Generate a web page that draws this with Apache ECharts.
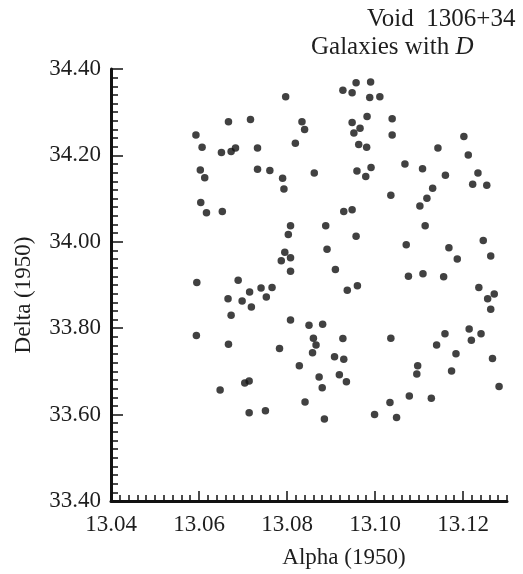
<!DOCTYPE html>
<html>
<head>
<meta charset="utf-8">
<script src="https://cdn.jsdelivr.net/npm/echarts@6/dist/echarts.min.js"></script>
<style>
  html, body { margin: 0; padding: 0; background: #fff; }
  #chart { width: 523px; height: 574px; }
</style>
</head>
<body>
<div id="chart"></div>
<script>
// galaxy positions
var alpha = [
  13.0797, 13.0927, 13.0948, 13.0957, 13.0990, 13.0988, 13.1011, 13.0667, 13.0717, 13.0834,
  13.0840, 13.0593, 13.0607, 13.0651, 13.0673, 13.0683, 13.0733, 13.0819, 13.0603, 13.0613,
  13.0733, 13.0761, 13.0790, 13.0793, 13.0862, 13.0604, 13.0617, 13.0653, 13.0929, 13.0948,
  13.0982, 13.1039, 13.0948, 13.0966, 13.0952, 13.1039, 13.0963, 13.0981, 13.1202, 13.1143,
  13.1212, 13.1068, 13.1108, 13.0959, 13.0991, 13.0979, 13.1160, 13.1234, 13.1222, 13.1254,
  13.1131, 13.1118, 13.1102, 13.1036, 13.0808, 13.0803, 13.0888, 13.0891, 13.0795, 13.0808,
  13.0787, 13.0808, 13.0910, 13.0595, 13.0689, 13.0715, 13.0741, 13.0766, 13.0753, 13.0666,
  13.0698, 13.0719, 13.0673, 13.0937, 13.0808, 13.0850, 13.0881, 13.1114, 13.0957, 13.1071,
  13.1168, 13.1246, 13.1187, 13.1263, 13.1076, 13.1109, 13.1156, 13.0960, 13.1236, 13.1256,
  13.1271, 13.1263, 13.1214, 13.0594, 13.0667, 13.0783, 13.0860, 13.0866, 13.0858, 13.0927,
  13.0908, 13.0929, 13.0828, 13.0873, 13.0919, 13.0935, 13.0880, 13.0704, 13.0714, 13.0648,
  13.0841, 13.0714, 13.0751, 13.0885, 13.1036, 13.1159, 13.1241, 13.1219, 13.1140, 13.1184,
  13.1267, 13.1097, 13.1095, 13.1174, 13.1282, 13.1078, 13.1128, 13.1034, 13.0999, 13.1049
];
var delta = [
  34.336, 34.351, 34.345, 34.368, 34.370, 34.334, 34.336, 34.278, 34.283, 34.278,
  34.260, 34.247, 34.219, 34.207, 34.209, 34.217, 34.217, 34.228, 34.166, 34.148,
  34.168, 34.165, 34.147, 34.122, 34.159, 34.091, 34.067, 34.070, 34.070, 34.074,
  34.290, 34.285, 34.276, 34.263, 34.252, 34.247, 34.225, 34.219, 34.244, 34.217,
  34.201, 34.180, 34.169, 34.164, 34.172, 34.151, 34.154, 34.159, 34.133, 34.131,
  34.124, 34.101, 34.083, 34.108, 34.037, 34.017, 34.037, 33.983, 33.976, 33.963,
  33.956, 33.932, 33.936, 33.906, 33.911, 33.884, 33.893, 33.894, 33.872, 33.868,
  33.863, 33.849, 33.830, 33.888, 33.819, 33.807, 33.809, 34.037, 34.013, 33.993,
  33.986, 34.003, 33.960, 33.967, 33.920, 33.926, 33.919, 33.898, 33.894, 33.868,
  33.879, 33.844, 33.798, 33.783, 33.763, 33.753, 33.777, 33.761, 33.743, 33.776,
  33.734, 33.728, 33.713, 33.687, 33.692, 33.676, 33.662, 33.673, 33.678, 33.657,
  33.629, 33.604, 33.609, 33.590, 33.777, 33.787, 33.787, 33.772, 33.761, 33.741,
  33.730, 33.713, 33.694, 33.701, 33.665, 33.643, 33.638, 33.628, 33.600, 33.593
];

var alphaRange = [13.04, 13.13];
var deltaRange = [33.40, 34.40];

var points = alpha.map(function (a, i) { return [a, delta[i]]; });

var ink = '#1e1e1e';
var serif = '"Liberation Serif", "DejaVu Serif", serif';

var chart = echarts.init(document.getElementById('chart'), null, { renderer: 'canvas' });

var option = {
  backgroundColor: '#fff',
  animation: false,
  title: [
    {
      text: 'Void  1306+34',
      left: 362, top: 2,
      textStyle: { fontFamily: serif, fontSize: 25, fontWeight: 'normal', color: ink }
    },
    {
      text: 'Galaxies with {i|D}',
      left: 306, top: 30,
      textStyle: {
        fontFamily: serif, fontSize: 25, fontWeight: 'normal', color: ink,
        rich: { i: { fontFamily: serif, fontSize: 25, fontStyle: 'italic', color: ink } }
      }
    }
  ],
  grid: { left: 111, top: 69, width: 396, height: 432, containLabel: false, outerBoundsMode: 'none' },
  xAxis: [
    // fine ticks + the axis line
    {
      type: 'value', position: 'bottom',
      min: alphaRange[0], max: alphaRange[1], interval: 0.002,
      axisLine: { show: true, lineStyle: { color: '#111', width: 3 } },
      axisTick: { show: true, inside: true, length: 6, lineStyle: { color: '#111', width: 1.5 } },
      axisLabel: { show: false },
      splitLine: { show: false }
    },
    // major ticks with labels
    {
      type: 'value', position: 'bottom',
      min: alphaRange[0], max: alphaRange[1], interval: 0.02,
      axisLine: { show: false },
      axisTick: { show: true, inside: true, length: 10, lineStyle: { color: '#111', width: 1.5 } },
      axisLabel: {
        show: true, margin: 12, showMaxLabel: false,
        fontFamily: serif, fontSize: 23, color: ink,
        formatter: function (v) { return v.toFixed(2); }
      },
      splitLine: { show: false },
      name: 'Alpha (1950)', nameLocation: 'middle', nameGap: 45,
      nameTextStyle: { fontFamily: serif, fontSize: 23, color: ink, padding: [0, 0, 0, 70] }
    }
  ],
  yAxis: [
    {
      type: 'value', position: 'left',
      min: deltaRange[0], max: deltaRange[1], interval: 0.02,
      axisLine: { show: true, lineStyle: { color: '#111', width: 3 } },
      axisTick: { show: true, inside: true, length: 7, lineStyle: { color: '#111', width: 1.5 } },
      axisLabel: { show: false },
      splitLine: { show: false }
    },
    {
      type: 'value', position: 'left',
      min: deltaRange[0], max: deltaRange[1], interval: 0.2,
      axisLine: { show: false },
      axisTick: { show: true, inside: true, length: 12, lineStyle: { color: '#111', width: 1.5 } },
      axisLabel: {
        show: true, margin: 10,
        fontFamily: serif, fontSize: 23, color: ink,
        formatter: function (v) { return v.toFixed(2); }
      },
      splitLine: { show: false },
      name: 'Delta (1950)', nameLocation: 'middle', nameGap: 76, nameRotate: 90,
      nameTextStyle: { fontFamily: serif, fontSize: 23, color: ink, padding: [0, 20, 0, 0] }
    }
  ],
  series: [
    {
      type: 'scatter',
      xAxisIndex: 1, yAxisIndex: 1,
      symbol: 'circle', symbolSize: 7.5,
      itemStyle: { color: '#111' },
      data: points
    }
  ]
};

chart.setOption(option);
</script>
</body>
</html>
